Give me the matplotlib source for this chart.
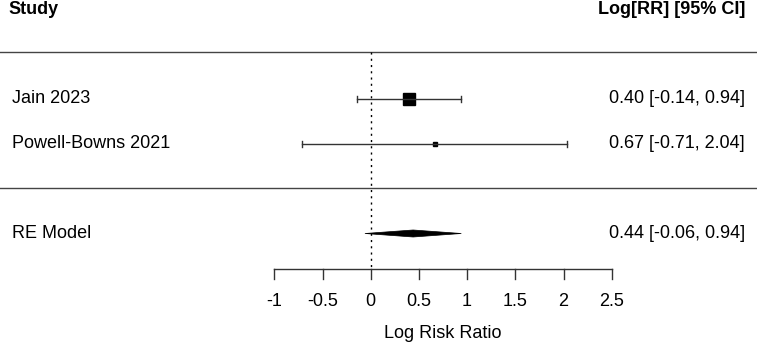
import matplotlib
matplotlib.use("Agg")
import matplotlib.pyplot as plt
from matplotlib.patches import Polygon

plt.rcParams['font.family'] = ['Liberation Sans', 'DejaVu Sans']

studies = ["Jain 2023", "Powell-Bowns 2021"]
est = [0.40, 0.67]
lo = [-0.14, -0.71]
hi = [0.94, 2.04]
sq_size = [12, 4]  # square side in px, from weights
re_est, re_lo, re_hi = 0.44, -0.06, 0.94
ticks = [-1, -0.5, 0, 0.5, 1, 1.5, 2, 2.5]

W, H = 757, 345
fig = plt.figure(figsize=(W / 100, H / 100), dpi=100)
ax = fig.add_axes([0, 0, 1, 1])
ppu = 96.4
x_m1 = 274.3
ax.set_xlim(-1 - x_m1 / ppu, 2.5 + (W - x_m1 - 3.5 * ppu) / ppu)
ax.set_ylim(H, 0)
ax.axis('off')

row_y = [98.5, 143.5]
re_y = 233.5
axis_y = 269
fs = 13
tr = ax.get_yaxis_transform()  # x in axes fraction, y in data (px)
left_x = 12 / W
right_x = 745 / W

# header and separators
ax.text(8 / W, 10, "Study", transform=tr, fontsize=fs, fontweight='bold', va='center', ha='left')
ax.text(right_x, 10, "Log[RR] [95% CI]", transform=tr, fontsize=fs, fontweight='bold', va='center', ha='right')
ax.axhline(52, color='#444444', lw=1)
ax.axhline(188, color='#444444', lw=1)

# reference line
ax.plot([0, 0], [52, axis_y], color='black', lw=1, ls=(0, (1.5, 3)))

px = 1 / ppu
for i, name in enumerate(studies):
    y = row_y[i]
    ax.plot([lo[i], hi[i]], [y, y], color='#333333', lw=1)
    for e in (lo[i], hi[i]):
        ax.plot([e, e], [y - 3, y + 3], color='#333333', lw=1)
    s = sq_size[i] / 2
    ax.add_patch(plt.Rectangle((est[i] - s * px, y - s), 2 * s * px, 2 * s, color='black'))
    ax.text(left_x, y, name, transform=tr, fontsize=fs, va='center', ha='left')
    ax.text(right_x, y, f"{est[i]:.2f} [{lo[i]:.2f}, {hi[i]:.2f}]", transform=tr,
            fontsize=fs, va='center', ha='right')

ax.add_patch(Polygon([[re_lo, re_y], [re_est, re_y - 3.5], [re_hi, re_y], [re_est, re_y + 3.5]],
                     closed=True, color='black', lw=0.5))
ax.text(left_x, re_y, "RE Model", transform=tr, fontsize=fs, va='center', ha='left')
ax.text(right_x, re_y, f"{re_est:.2f} [{re_lo:.2f}, {re_hi:.2f}]", transform=tr,
        fontsize=fs, va='center', ha='right')

# x axis
ax.plot([ticks[0], ticks[-1]], [axis_y, axis_y], color='#333333', lw=1)
for t in ticks:
    ax.plot([t, t], [axis_y, axis_y + 10], color='#333333', lw=1)
    ax.text(t, 302, f"{t:g}", fontsize=fs, ha='center', va='center')
ax.text(0.75, 334, "Log Risk Ratio", fontsize=fs, ha='center', va='center')

fig.savefig("out.png", dpi=100)
